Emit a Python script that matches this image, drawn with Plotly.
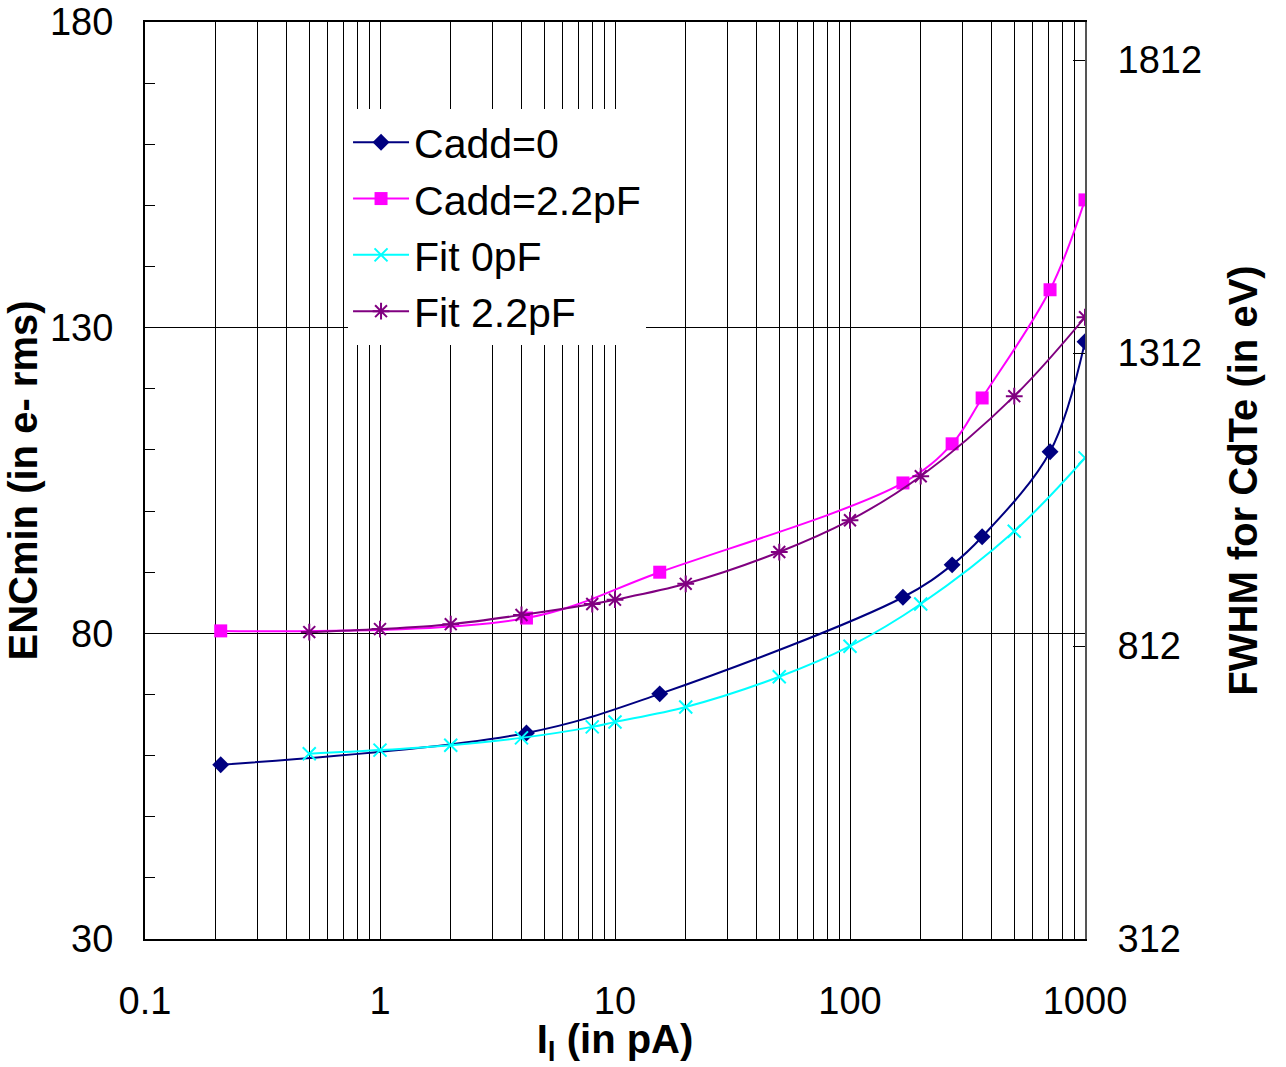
import plotly.graph_objects as go

# Measured points
current_meas = [0.21, 4.2, 15.5, 168, 272, 365, 710, 1000]
enc_cadd0 = [58.5, 63.7, 70.1, 85.9, 91.2, 95.8, 109.7, 127.7]
enc_cadd22 = [80.4, 82.5, 90.0, 104.6, 111.0, 118.5, 136.2, 150.9]

# Fit points
current_fit = [0.5, 1, 2, 4, 8, 10, 20, 50, 100, 200, 500, 1000]
fit_0pf = [60.3, 60.9, 61.7, 62.9, 64.7, 65.5, 67.95, 72.9, 77.9, 84.8, 96.7, 108.7]
fit_22pf = [80.2, 80.7, 81.5, 83.0, 84.8, 85.5, 88.1, 93.3, 98.5, 105.7, 118.8, 131.7]

left_ticks = [30, 80, 130, 180]
right_ticks = [312, 812, 1312, 1812]
ev_per_enc = 10.4325  # 2.355 * 4.43 eV for CdTe

x_major = [0.1, 1, 10, 100, 1000]
x_labels = ["0.1", "1", "10", "100", "1000"]

xt_vals, xt_text = [], []
for d in [0.1, 1, 10, 100]:
    for m in range(1, 10):
        v = round(d * m, 6)
        xt_vals.append(v)
        xt_text.append(x_labels[x_major.index(d)] if m == 1 else "")
xt_vals.append(1000)
xt_text.append("1000")

FONT = "Liberation Sans, Arial, sans-serif"

fig = go.Figure()
fig.add_trace(go.Scatter(x=current_meas, y=enc_cadd0, name="Cadd=0", mode="lines+markers",
                         line=dict(color="#000080", width=2, shape="spline"),
                         marker=dict(symbol="diamond", size=13, color="#000080"),
                         legendgroup="a"))
fig.add_trace(go.Scatter(x=current_meas, y=enc_cadd22, name="Cadd=2.2pF", mode="lines+markers",
                         line=dict(color="#FF00FF", width=2, shape="spline"),
                         marker=dict(symbol="square", size=13, color="#FF00FF"),
                         legendgroup="b"))
fig.add_trace(go.Scatter(x=current_fit, y=fit_0pf, name="Fit 0pF", mode="lines+markers",
                         line=dict(color="#00FFFF", width=2, shape="spline"),
                         marker=dict(symbol="x-thin-open", size=13, color="#00FFFF",
                                     line=dict(color="#00FFFF", width=2)),
                         legendgroup="c"))
fig.add_trace(go.Scatter(x=current_fit, y=fit_22pf, name="Fit 2.2pF", mode="lines+markers",
                         line=dict(color="#800080", width=2, shape="spline"),
                         marker=dict(symbol="asterisk-open", size=14, color="#800080",
                                     line=dict(color="#800080", width=2)),
                         legendgroup="d"))
# FWHM axis carrier (same fit curve expressed in eV, not shown)
fig.add_trace(go.Scatter(x=current_fit, y=[312 + (v - 30) * ev_per_enc for v in fit_22pf],
                         yaxis="y2", mode="lines", line=dict(width=0), opacity=0,
                         showlegend=False, hoverinfo="skip"))

fig.update_layout(
    width=1286, height=1067,
    margin=dict(l=145, r=201, t=22, b=128),
    paper_bgcolor="white", plot_bgcolor="white",
    font=dict(family=FONT, size=38, color="black"),
    showlegend=True,
    legend=dict(x=0.216, y=0.905, xanchor="left", yanchor="top",
                bgcolor="white", borderwidth=0,
                font=dict(family=FONT, size=41, color="black"),
                tracegroupgap=0, itemwidth=56, traceorder="grouped"),
    xaxis=dict(type="log", range=[-1, 3], tickmode="array", tickvals=xt_vals, ticktext=xt_text,
               showgrid=True, gridcolor="black", gridwidth=1,
               showline=True, linecolor="black", linewidth=2, mirror=True,
               ticks="inside", ticklen=6, tickcolor="black",
               ticklabelstandoff=27, automargin=False,
               tickfont=dict(size=38),
               title=dict(text="<b>I<sub>l</sub> (in pA)</b>", font=dict(size=40), standoff=13),
               zeroline=False),
    yaxis=dict(range=[30, 180], tickmode="array", tickvals=left_ticks,
               showgrid=True, gridcolor="black", gridwidth=1,
               showline=True, linecolor="black", linewidth=2, mirror=True,
               ticks="inside", ticklen=10, tickcolor="black",
               minor=dict(dtick=10, tick0=30, ticks="inside", ticklen=10, tickcolor="black", showgrid=False),
               ticklabelstandoff=22, automargin=False,
               tickfont=dict(size=38),
               title=dict(text="<b>ENCmin (in e- rms)</b>", font=dict(size=40), standoff=0),
               zeroline=False),
    yaxis2=dict(overlaying="y", side="right", anchor="x",
                range=[312, 312 + 150 * ev_per_enc], tickmode="array", tickvals=right_ticks,
                showgrid=False, showline=True, linecolor="#555", linewidth=2,
                ticks="inside", ticklen=12, tickcolor="black",
                ticklabelstandoff=23, automargin=False,
                tickfont=dict(size=38),
                title=dict(text="<b>FWHM for CdTe (in eV)</b>", font=dict(size=40), standoff=28),
                zeroline=False),
)

fig.write_html("out.html")
